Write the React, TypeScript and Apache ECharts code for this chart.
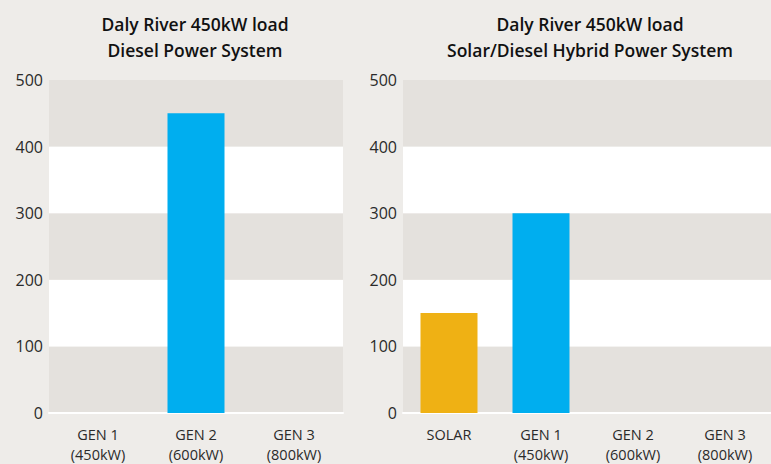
import React, { useEffect, useRef } from "react";
import * as echarts from "echarts";

const leftCategories = ["GEN 1\n(450kW)", "GEN 2\n(600kW)", "GEN 3\n(800kW)"];
const leftValues = [0, 450, 0];
const rightCategories = ["SOLAR", "GEN 1\n(450kW)", "GEN 2\n(600kW)", "GEN 3\n(800kW)"];
const rightValues = [150, 300, 0, 0];
const rightColors = ["#EFB114", "#00AEEF", "#00AEEF", "#00AEEF"];
const leftTitle = "Daly River 450kW load\nDiesel Power System";
const rightTitle = "Daly River 450kW load\nSolar/Diesel Hybrid Power System";

const FONT = "'Open Sans', 'Noto Sans', sans-serif";

export default function App() {
  const ref = useRef<HTMLDivElement>(null);
  useEffect(() => {
    if (!ref.current) return;
    const chart = echarts.init(ref.current, null, { renderer: "svg" });
    const yAxisCommon = {
      type: "value",
      min: 0,
      max: 500,
      interval: 100,
      axisLine: { show: false },
      axisTick: { show: false },
      splitLine: { show: false },
      splitArea: { show: true, areaStyle: { color: ["#E4E1DD", "#FFFFFF"] } },
      axisLabel: { color: "#2a2a2a", fontSize: 16, fontFamily: FONT, margin: 6 },
    };
    const xAxisCommon = {
      type: "category",
      axisLine: { show: true, lineStyle: { color: "#FFFFFF", width: 2 } },
      axisTick: { show: false },
      axisLabel: {
        color: "#2a2a2a",
        fontSize: 14.5,
        fontFamily: FONT,
        lineHeight: 20,
        margin: 11,
        verticalAlign: "top",
        interval: 0,
      },
    };
    chart.setOption({
      animation: false,
      backgroundColor: "#EEECE9",
      grid: [
        { left: 49, width: 294, top: 80, height: 333 },
        { left: 403, width: 368, top: 80, height: 333 },
      ],
      xAxis: [
        { ...xAxisCommon, gridIndex: 0, data: leftCategories },
        { ...xAxisCommon, gridIndex: 1, data: rightCategories },
      ],
      yAxis: [
        { ...yAxisCommon, gridIndex: 0 },
        { ...yAxisCommon, gridIndex: 1 },
      ],
      series: [
        {
          type: "bar",
          xAxisIndex: 0,
          yAxisIndex: 0,
          data: leftValues,
          barWidth: 57,
          itemStyle: { color: "#00AEEF" },
        },
        {
          type: "bar",
          xAxisIndex: 1,
          yAxisIndex: 1,
          data: rightValues.map((v, i) => ({ value: v, itemStyle: { color: rightColors[i] } })),
          barWidth: 57,
        },
      ],
      graphic: [
        {
          type: "text",
          x: 195,
          y: 11,
          style: {
            text: leftTitle,
            fill: "#111",
            font: `600 17.5px ${FONT}`,
            textAlign: "center",
            textVerticalAlign: "top",
            lineHeight: 26,
          },
        },
        {
          type: "text",
          x: 590,
          y: 11,
          style: {
            text: rightTitle,
            fill: "#111",
            font: `600 17.5px ${FONT}`,
            textAlign: "center",
            textVerticalAlign: "top",
            lineHeight: 26,
          },
        },
      ],
    });
    return () => chart.dispose();
  }, []);
  return <div ref={ref} style={{ width: 771, height: 464, position: "absolute", left: 0, top: 0 }} />;
}
